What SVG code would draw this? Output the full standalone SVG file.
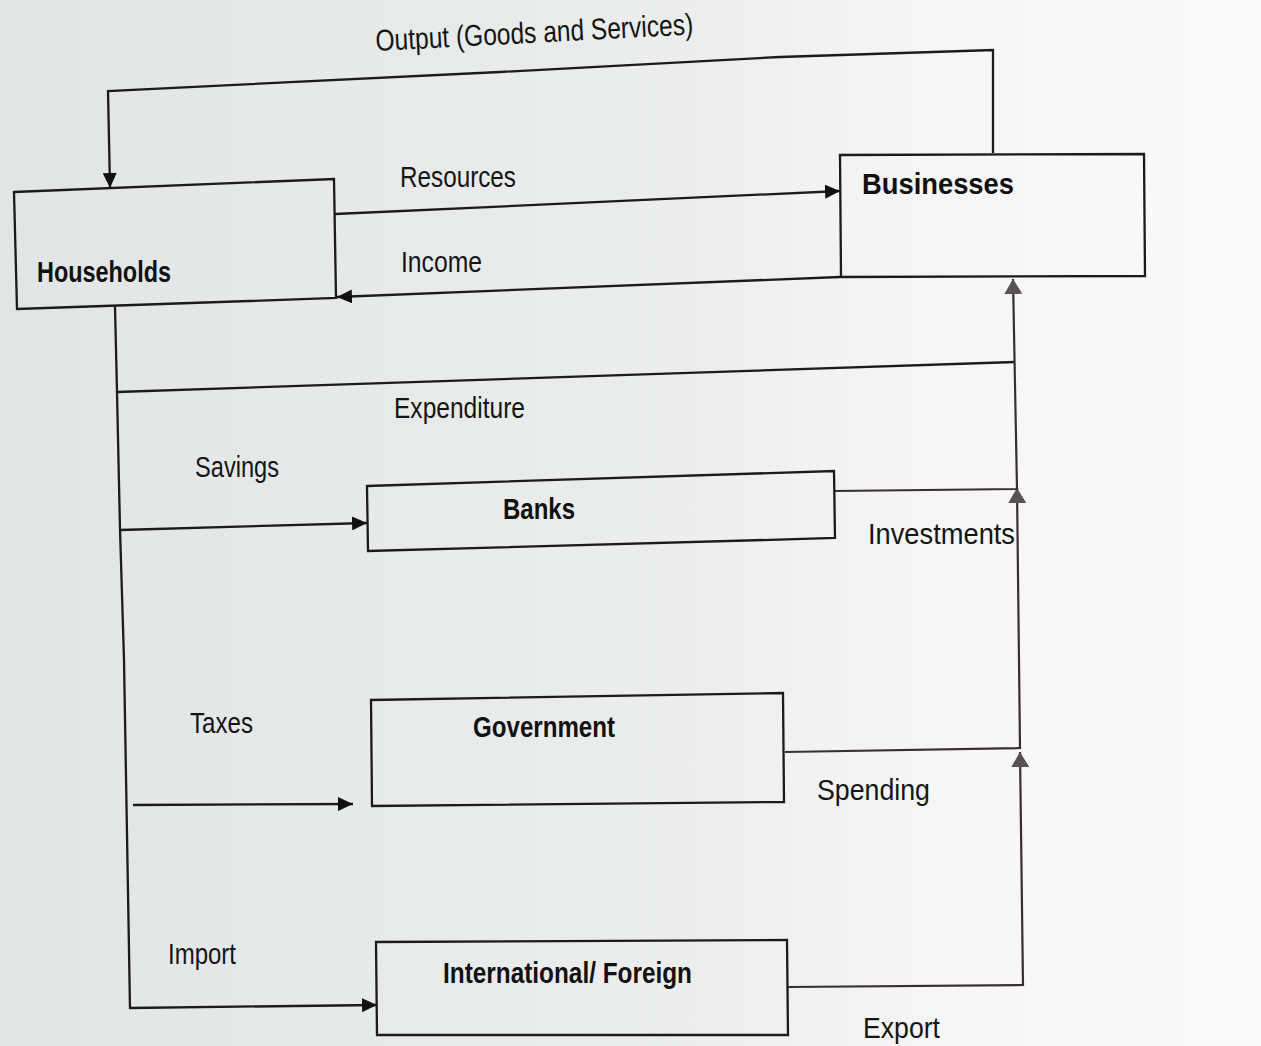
<svg xmlns="http://www.w3.org/2000/svg" width="1261" height="1046" viewBox="0 0 1261 1046">
  <defs>
    <linearGradient id="paper" x1="0" y1="0" x2="1" y2="0">
      <stop offset="0" stop-color="#e2e5e5"/>
      <stop offset="0.55" stop-color="#eceeee"/>
      <stop offset="0.75" stop-color="#f6f6f6"/>
      <stop offset="1" stop-color="#fafafa"/>
    </linearGradient>
    <marker id="ah" markerUnits="userSpaceOnUse" markerWidth="16" markerHeight="14" refX="15" refY="7" orient="auto">
      <path d="M0,0 L15,7 L0,14 z" fill="#111"/>
    </marker>
    <marker id="ahg" markerUnits="userSpaceOnUse" markerWidth="16" markerHeight="18" refX="15" refY="9" orient="auto">
      <path d="M0,0 L15,9 L0,18 z" fill="#5a5252"/>
    </marker>
  </defs>
  <style>
    .box { fill: none; stroke: #1c1a1a; stroke-width: 2.3; }
    .line { fill: none; stroke: #1c1a1a; stroke-width: 2.3; }
    .rline { fill: none; stroke: #3b2e2e; stroke-width: 2.2; }
    .node { font-family: "Liberation Sans", Arial, sans-serif; font-weight: bold; font-size: 29px; fill: #111; }
    .lbl { font-family: "Liberation Sans", Arial, sans-serif; font-size: 30px; fill: #151515; }
  </style>
  <rect x="0" y="0" width="1261" height="1046" fill="url(#paper)"/>

  <g id="connectors">
    <!-- Output (Goods and Services) -->
    <path class="line" d="M993,153 L993,50 L780,57 L500,72 L108,91 L110,188" marker-end="url(#ah)"/>
    <!-- Resources -->
    <path class="line" d="M335,214 L840,191" marker-end="url(#ah)"/>
    <!-- Income -->
    <path class="line" d="M840,277 L337,297" marker-end="url(#ah)"/>
    <!-- Household trunk and Import -->
    <path class="line" d="M115,307 L117,392 L120,529 L124,660 L130,1008 L377,1005" marker-end="url(#ah)"/>
    <!-- Expenditure -->
    <path class="line" d="M117,392 L1015,362"/>
    <!-- Savings -->
    <path class="line" d="M120,530 L367,523" marker-end="url(#ah)"/>
    <!-- Taxes -->
    <path class="line" d="M133,805 L353,804" marker-end="url(#ah)"/>
    <!-- Export -->
    <path class="rline" d="M788,987 L1023,985 L1020,752" marker-end="url(#ahg)"/>
    <!-- Spending -->
    <path class="rline" d="M785,752 L1020,748 L1017,488" marker-end="url(#ahg)"/>
    <!-- Investments -->
    <path class="rline" d="M834,491 L1017,489 L1013,279" marker-end="url(#ahg)"/>
  </g>

  <g id="households">
    <path class="box" d="M14,192 L334,179 L336,298 L17,309 Z"/>
    <text class="node" x="37" y="282" textLength="134" lengthAdjust="spacingAndGlyphs">Households</text>
  </g>
  <g id="businesses">
    <path class="box" d="M840,155 L1144,154 L1145,276 L841,277 Z"/>
    <text class="node" x="862" y="194" textLength="152" lengthAdjust="spacingAndGlyphs">Businesses</text>
  </g>
  <g id="banks">
    <path class="box" d="M367,486 L834,471 L835,538 L368,551 Z"/>
    <text class="node" x="503" y="519" textLength="72" lengthAdjust="spacingAndGlyphs">Banks</text>
  </g>
  <g id="government">
    <path class="box" d="M371,700 L783,693 L784,802 L372,806 Z"/>
    <text class="node" x="473" y="737" textLength="142" lengthAdjust="spacingAndGlyphs">Government</text>
  </g>
  <g id="international">
    <path class="box" d="M376,942 L787,940 L788,1035 L377,1035 Z"/>
    <text class="node" x="443" y="983" textLength="249" lengthAdjust="spacingAndGlyphs">International/ Foreign</text>
  </g>

  <g id="labels">
    <text class="lbl" x="376" y="51" textLength="318" lengthAdjust="spacingAndGlyphs" transform="rotate(-3 376 51)">Output (Goods and Services)</text>
    <text class="lbl" x="400" y="187" textLength="116" lengthAdjust="spacingAndGlyphs">Resources</text>
    <text class="lbl" x="401" y="272" textLength="81" lengthAdjust="spacingAndGlyphs">Income</text>
    <text class="lbl" x="394" y="418" textLength="131" lengthAdjust="spacingAndGlyphs">Expenditure</text>
    <text class="lbl" x="195" y="477" textLength="84" lengthAdjust="spacingAndGlyphs">Savings</text>
    <text class="lbl" x="868" y="544" textLength="147" lengthAdjust="spacingAndGlyphs">Investments</text>
    <text class="lbl" x="190" y="733" textLength="63" lengthAdjust="spacingAndGlyphs">Taxes</text>
    <text class="lbl" x="817" y="800" textLength="113" lengthAdjust="spacingAndGlyphs">Spending</text>
    <text class="lbl" x="168" y="964" textLength="68" lengthAdjust="spacingAndGlyphs">Import</text>
    <text class="lbl" x="863" y="1038" textLength="77" lengthAdjust="spacingAndGlyphs">Export</text>
  </g>
</svg>
